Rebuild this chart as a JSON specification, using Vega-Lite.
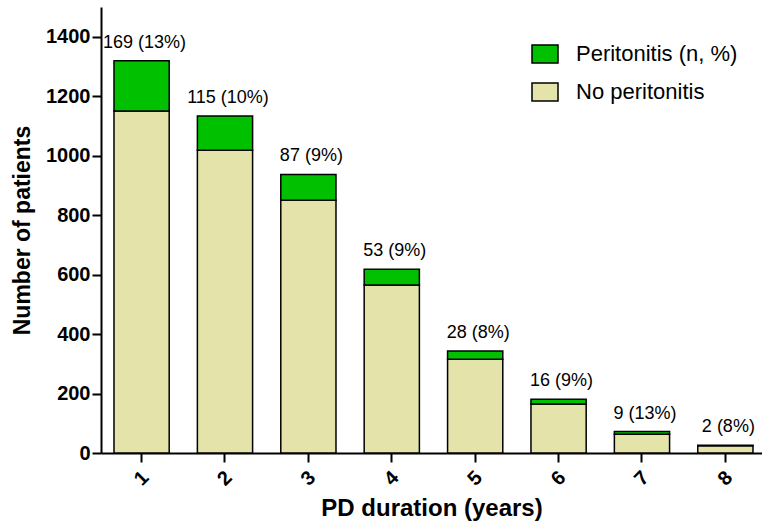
{
  "$schema": "https://vega.github.io/schema/vega-lite/v6.json",
  "width": 661,
  "height": 446,
  "autosize": {"type": "none"},
  "padding": {"left": 101, "top": 7, "right": 0, "bottom": 71},
  "background": "white",
  "config": {"view": {"stroke": null}, "font": "Liberation Sans"},
  "data": {
    "values": [
      {"duration": "1", "group": "No peritonitis", "n": 1150},
      {"duration": "1", "group": "Peritonitis (n, %)", "n": 169, "label": "169 (13%)"},
      {"duration": "2", "group": "No peritonitis", "n": 1018},
      {"duration": "2", "group": "Peritonitis (n, %)", "n": 115, "label": "115 (10%)"},
      {"duration": "3", "group": "No peritonitis", "n": 850},
      {"duration": "3", "group": "Peritonitis (n, %)", "n": 87, "label": "87 (9%)"},
      {"duration": "4", "group": "No peritonitis", "n": 565},
      {"duration": "4", "group": "Peritonitis (n, %)", "n": 53, "label": "53 (9%)"},
      {"duration": "5", "group": "No peritonitis", "n": 315},
      {"duration": "5", "group": "Peritonitis (n, %)", "n": 28, "label": "28 (8%)"},
      {"duration": "6", "group": "No peritonitis", "n": 165},
      {"duration": "6", "group": "Peritonitis (n, %)", "n": 16, "label": "16 (9%)"},
      {"duration": "7", "group": "No peritonitis", "n": 63},
      {"duration": "7", "group": "Peritonitis (n, %)", "n": 9, "label": "9 (13%)"},
      {"duration": "8", "group": "No peritonitis", "n": 24},
      {"duration": "8", "group": "Peritonitis (n, %)", "n": 2, "label": "2 (8%)"}
    ]
  },
  "layer": [
    {
      "mark": {"type": "bar", "stroke": "black", "strokeWidth": 1.5},
      "encoding": {
        "x": {
          "field": "duration",
          "type": "ordinal",
          "scale": {"paddingInner": 0.338, "paddingOuter": 0.132, "align": 0.59},
          "axis": {
            "domainColor": "black",
            "domainWidth": 2,
            "tickColor": "black",
            "tickWidth": 2,
            "tickSize": 9,
            "labelAngle": -45,
            "labelAlign": "center",
            "labelBaseline": "middle",
            "labelPadding": 16,
            "labelFontSize": 20,
            "labelFontWeight": "bold",
            "labelColor": "black",
            "title": "PD duration (years)",
            "titleFontSize": 24,
            "titleFontWeight": "bold",
            "titleColor": "black",
            "titlePadding": 7
          }
        },
        "y": {
          "field": "n",
          "type": "quantitative",
          "stack": "zero",
          "scale": {"domain": [0, 1500], "nice": false},
          "axis": {
            "values": [0, 200, 400, 600, 800, 1000, 1200, 1400],
            "format": "d",
            "grid": false,
            "domainColor": "black",
            "domainWidth": 2,
            "tickColor": "black",
            "tickWidth": 2,
            "tickSize": 9,
            "labelPadding": 2,
            "labelFontSize": 20,
            "labelFontWeight": "bold",
            "labelColor": "black",
            "title": "Number of patients",
            "titleFontSize": 23,
            "titleFontWeight": "bold",
            "titleColor": "black",
            "titlePadding": 11
          }
        },
        "color": {
          "field": "group",
          "type": "nominal",
          "scale": {
            "domain": ["Peritonitis (n, %)", "No peritonitis"],
            "range": ["#00C000", "#E3E3AA"]
          },
          "legend": {
            "title": null,
            "orient": "none",
            "legendX": 430,
            "legendY": 33,
            "labelFontSize": 22,
            "labelLimit": 0,
            "labelColor": "black",
            "labelOffset": 17,
            "rowPadding": 11,
            "symbolType": "M-1,-0.7H1V0.7H-1Z",
            "symbolSize": 676,
            "symbolStrokeColor": "black",
            "symbolStrokeWidth": 1.5,
            "symbolOpacity": 1
          }
        },
        "order": {"field": "group", "sort": "ascending"}
      }
    },
    {
      "transform": [
        {"joinaggregate": [{"op": "sum", "field": "n", "as": "total"}], "groupby": ["duration"]},
        {"filter": "datum.label != null"}
      ],
      "mark": {"type": "text", "baseline": "alphabetic", "dy": -13, "dx": 3, "fontSize": 18, "color": "black"},
      "encoding": {
        "x": {"field": "duration", "type": "ordinal"},
        "y": {"field": "total", "type": "quantitative"},
        "text": {"field": "label"}
      }
    }
  ]
}
